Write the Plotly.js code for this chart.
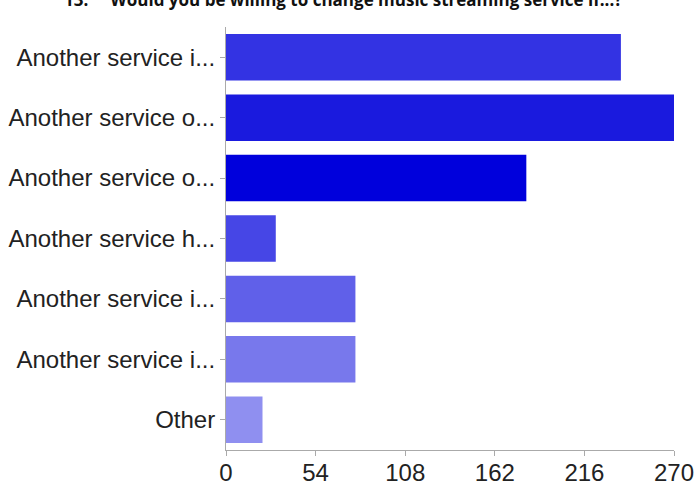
<!DOCTYPE html>
<html>
<head>
<meta charset="utf-8">
<script src="https://cdn.plot.ly/plotly-3.0.1.min.js"></script>
<style>html,body{margin:0;padding:0;background:#fff;}#chart{width:697px;height:482px;}</style>
</head>
<body>
<div id="chart"></div>
<script>
const categories = [
  "Another service i...",
  "Another service o...",
  "Another service o...",
  "Another service h...",
  "Another service i...",
  "Another service i...",
  "Other"
];
const values = [238, 270, 181, 30, 78, 78, 22];
const barColors = ["#3333e3", "#1a1ade", "#0000dc", "#4646e6", "#6060e9", "#7878ec", "#8f8ff0"];
const tickVals = [0, 54, 108, 162, 216, 270];
const titleText = "13.\u00a0\u00a0\u00a0\u00a0\u00a0Would you be willing to change music streaming service if...?";

const rowIds = categories.map((c, i) => i);

const trace = {
  type: "bar",
  orientation: "h",
  x: values,
  y: rowIds,
  text: categories,
  textposition: "none",
  marker: {color: barColors, line: {width: 0}},
  hoverinfo: "x+text"
};

const layout = {
  width: 697,
  height: 482,
  margin: {l: 226, r: 23, t: 27, b: 32, pad: 0},
  paper_bgcolor: "#ffffff",
  plot_bgcolor: "#ffffff",
  showlegend: false,
  bargap: 0.23,
  font: {family: "Liberation Sans, Arial, sans-serif", size: 24, color: "#222222"},
  xaxis: {
    range: [0, 270],
    tickvals: tickVals,
    ticktext: tickVals.map(String),
    showgrid: false,
    zeroline: false,
    showline: true,
    linecolor: "#aaaaaa",
    linewidth: 1,
    ticks: "outside",
    ticklen: 5,
    tickcolor: "#aaaaaa",
    ticklabelstandoff: -4,
    tickfont: {size: 24, color: "#222222"},
    fixedrange: true
  },
  yaxis: {
    range: [categories.length - 0.5, -0.5],
    tickvals: rowIds,
    ticktext: categories,
    showgrid: false,
    zeroline: false,
    showline: true,
    linecolor: "#aaaaaa",
    linewidth: 1,
    ticks: "outside",
    ticklen: 5,
    tickcolor: "#aaaaaa",
    tickfont: {size: 24, color: "#222222"},
    fixedrange: true
  },
  annotations: [{
    text: "<b>" + titleText + "</b>",
    xref: "paper", yref: "paper",
    x: 0.261, y: 1.033,
    xanchor: "center", yanchor: "bottom",
    showarrow: false,
    font: {family: "Open Sans, Liberation Sans, sans-serif", size: 17, color: "#111111"}
  }]
};

Plotly.newPlot("chart", [trace], layout, {displayModeBar: false, staticPlot: true});
</script>
</body>
</html>
